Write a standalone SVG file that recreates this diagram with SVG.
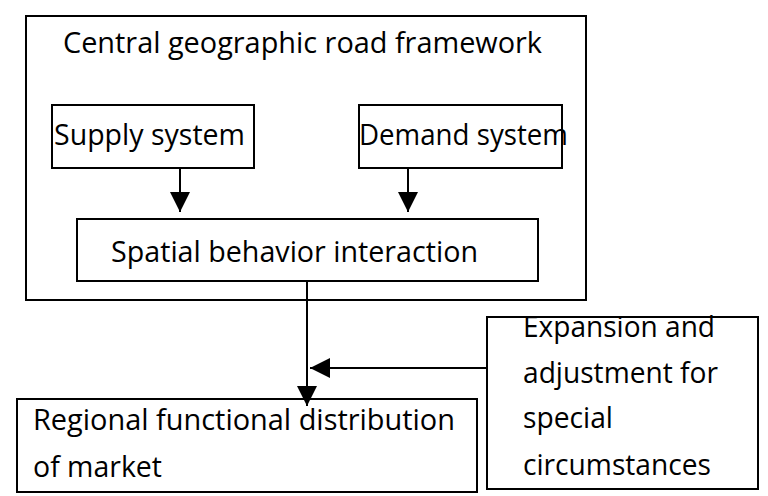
<svg xmlns="http://www.w3.org/2000/svg" width="768" height="496" viewBox="0 0 768 496">
<style>
.box{fill:none;stroke:#000;stroke-width:2}
.t{font-family:"Open Sans","Noto Sans","DejaVu Sans",sans-serif;font-size:28.5px;fill:#000}
.ln{stroke:#000;stroke-width:2;fill:none}
</style>
<defs>
<marker id="ah" viewBox="0 0 20 20" refX="20" refY="10" markerWidth="20" markerHeight="20" markerUnits="userSpaceOnUse" orient="auto">
<path d="M0,0 L20,10 L0,20 Z" fill="#000"/>
</marker>
</defs>
<rect width="768" height="496" fill="#fff"/>
<g id="outer">
<rect class="box" x="26" y="16" width="560" height="284"/>
<text class="t" x="63" y="53" textLength="479" lengthAdjust="spacingAndGlyphs">Central geographic road framework</text>
</g>
<g id="supply">
<rect class="box" x="52" y="105" width="202" height="63"/>
<text class="t" x="54" y="145" textLength="191" lengthAdjust="spacingAndGlyphs">Supply system</text>
</g>
<g id="demand">
<rect class="box" x="359" y="105" width="203" height="63"/>
<text class="t" x="359" y="145" textLength="209" lengthAdjust="spacingAndGlyphs">Demand system</text>
</g>
<g id="spatial">
<rect class="box" x="77" y="219" width="461" height="62"/>
<text class="t" x="111" y="262" textLength="367" lengthAdjust="spacingAndGlyphs">Spatial behavior interaction</text>
</g>
<g id="regional">
<rect class="box" x="17" y="399" width="460" height="93"/>
<text class="t" x="33" y="430" textLength="422" lengthAdjust="spacingAndGlyphs">Regional functional distribution</text>
<text class="t" x="33" y="477" textLength="129" lengthAdjust="spacingAndGlyphs">of market</text>
</g>
<g id="expansion">
<rect class="box" x="487" y="317" width="271" height="172"/>
<text class="t" x="523" y="337" textLength="192" lengthAdjust="spacingAndGlyphs">Expansion and</text>
<text class="t" x="523" y="383" textLength="195" lengthAdjust="spacingAndGlyphs">adjustment for</text>
<text class="t" x="523" y="428" textLength="90" lengthAdjust="spacingAndGlyphs">special</text>
<text class="t" x="523" y="475" textLength="188" lengthAdjust="spacingAndGlyphs">circumstances</text>
</g>
<g id="connectors">
<line class="ln" x1="180" y1="168" x2="180" y2="212" marker-end="url(#ah)"/>
<line class="ln" x1="408" y1="168" x2="408" y2="212" marker-end="url(#ah)"/>
<line class="ln" x1="307" y1="281" x2="307" y2="406" marker-end="url(#ah)"/>
<line class="ln" x1="487" y1="368" x2="310" y2="368" marker-end="url(#ah)"/>
</g>
</svg>
